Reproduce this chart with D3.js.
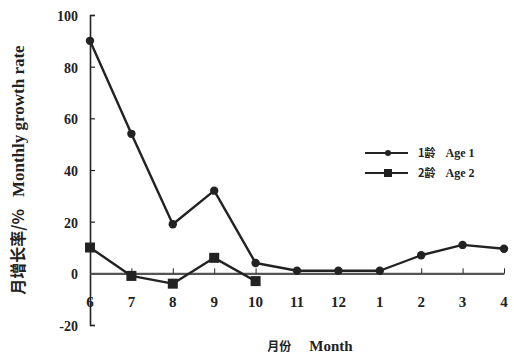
<!DOCTYPE html>
<html>
<head>
<meta charset="utf-8">
<script src="https://cdn.jsdelivr.net/npm/d3@7/dist/d3.min.js"></script>
<style>
  html, body { margin: 0; padding: 0; background: #fff; }
  svg text { font-family: "Liberation Serif", "Times New Roman", serif; fill: #222; }
  .cjk { font-family: "Noto Sans CJK SC", sans-serif; font-weight: 700; }
</style>
</head>
<body>
<svg id="chart" width="514" height="362"></svg>
<script>
// Monthly growth rate (%) by month, two age groups
const months = ["6", "7", "8", "9", "10", "11", "12", "1", "2", "3", "4"];
const age1 = [90, 54, 19, 32, 4, 1, 1, 1, 7, 11, 9.5];
const age2 = [10, -1, -4, 6, -3];
const yTicks = [-20, 0, 20, 40, 60, 80, 100];
const seriesNames = [["1龄", "Age 1"], ["2龄", "Age 2"]];

const svg = d3.select("#chart");
const ink = "#222";

const x = d3.scalePoint().domain(months).range([90, 504]);
const y = d3.scaleLinear().domain([-20, 100]).range([325, 15]);

// y axis
const yAxis = svg.append("g").attr("transform", "translate(90,0)")
  .call(d3.axisRight(y).tickValues(yTicks).tickSize(5).tickFormat(""));
yAxis.select(".domain").attr("stroke", ink).attr("stroke-width", 1.6);
yAxis.selectAll(".tick line").attr("stroke", ink).attr("stroke-width", 1.2);

svg.append("g").selectAll("text").data(yTicks).join("text")
  .attr("x", 78).attr("y", d => y(d) + 6)
  .attr("text-anchor", "end").attr("font-size", 14).attr("font-weight", 700)
  .text(d => d);

// category axis along y = 0
const xAxis = svg.append("g").attr("transform", `translate(0,${y(0)})`)
  .call(d3.axisTop(x).tickSize(5).tickSizeOuter(0).tickFormat(""));
xAxis.select(".domain").attr("stroke", "#555").attr("stroke-width", 2.4);
xAxis.selectAll(".tick line").attr("stroke", ink).attr("stroke-width", 1);

svg.append("g").selectAll("text").data(months).join("text")
  .attr("x", d => x(d)).attr("y", 307)
  .attr("text-anchor", "middle").attr("font-size", 15).attr("font-weight", 700)
  .text(d => d);

// series lines
const line = d3.line().x((d, i) => x(months[i])).y(d => y(d));

svg.append("path").datum(age1).attr("d", line)
  .attr("fill", "none").attr("stroke", ink).attr("stroke-width", 2.4).attr("stroke-linejoin", "round");
svg.append("path").datum(age2).attr("d", line)
  .attr("fill", "none").attr("stroke", ink).attr("stroke-width", 2.4).attr("stroke-linejoin", "round");

svg.append("g").selectAll("circle").data(age1).join("circle")
  .attr("cx", (d, i) => x(months[i])).attr("cy", d => y(d)).attr("r", 4.2).attr("fill", ink);
svg.append("g").selectAll("rect").data(age2).join("rect")
  .attr("x", (d, i) => x(months[i]) - 5).attr("y", d => y(d) - 5)
  .attr("width", 10).attr("height", 10).attr("fill", ink);

// legend
const legend = svg.append("g");
seriesNames.forEach((nm, i) => {
  const ly = 153 + i * 20;
  legend.append("line").attr("x1", 365).attr("x2", 408).attr("y1", ly).attr("y2", ly)
    .attr("stroke", ink).attr("stroke-width", 2);
  if (i === 0) {
    legend.append("circle").attr("cx", 388).attr("cy", ly).attr("r", 3).attr("fill", ink);
  } else {
    legend.append("rect").attr("x", 384).attr("y", ly - 4).attr("width", 8).attr("height", 8).attr("fill", ink);
  }
  legend.append("text").attr("x", 418).attr("y", ly + 4).attr("font-size", 12)
    .html(`<tspan class="cjk" font-size="11">${nm[0]}</tspan><tspan dx="10" font-weight="700">${nm[1]}</tspan>`);
});

// axis titles
svg.append("text")
  .attr("transform", "translate(24,170) rotate(-90)")
  .attr("text-anchor", "middle").attr("font-size", 17)
  .html(`<tspan class="cjk" font-size="16">月增长率/%</tspan><tspan dx="12" font-weight="700">Monthly growth rate</tspan>`);

svg.append("text")
  .attr("x", 310).attr("y", 351)
  .attr("text-anchor", "middle").attr("font-size", 15)
  .html(`<tspan class="cjk" font-size="12">月份</tspan><tspan dx="18" font-weight="700">Month</tspan>`);
</script>
</body>
</html>
